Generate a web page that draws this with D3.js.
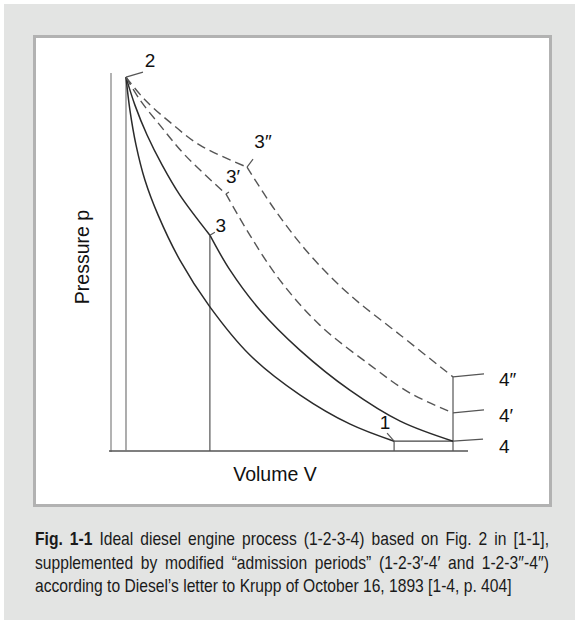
<!DOCTYPE html>
<html>
<head>
<meta charset="utf-8">
<script src="https://cdn.jsdelivr.net/npm/d3@7"></script>
<style>
  html, body { margin: 0; padding: 0; background: #ffffff; }
  svg { display: block; }
</style>
</head>
<body>
<svg id="fig" width="575" height="624"></svg>
<script>
// p–V diagram of the ideal diesel process, values in relative units (0–100)
const pointNames = ["1", "2", "3", "3′", "3″", "4", "4′", "4″"];
const pointV = [79.3, 4.2, 27.7, 32.2, 38.1, 95.8, 95.8, 95.8];
const pointP = [2.6, 98.9, 57.1, 68.0, 75.1, 2.6, 10.1, 19.6];

// compression 1–2 (solid)
const compressionV = [4.2, 5.3, 7.0, 9.5, 13.2, 19.3, 27.5, 38.9, 53.0, 67.0, 79.3];
const compressionP = [98.9, 90.2, 81.0, 71.7, 62.4, 50.5, 38.4, 25.4, 14.8, 7.1, 2.6];

// admission 2–3 and expansion 3–4 (solid)
const combustionV = [4.2, 6.7, 10.1, 14.3, 19.3, 27.7];
const combustionP = [98.9, 91.5, 83.6, 75.7, 67.7, 57.1];
const expansionV = [27.7, 33.3, 41.7, 52.9, 66.9, 81.0, 95.8];
const expansionP = [57.1, 47.9, 37.3, 26.7, 16.1, 7.9, 2.6];

// modified admission 2–3′ and expansion 3′–4′ (dashed)
const combustion1V = [4.2, 8.1, 13.7, 20.7, 32.2];
const combustion1P = [98.9, 92.9, 86.2, 78.3, 68.0];
const expansion1V = [32.2, 38.9, 47.3, 58.5, 72.5, 83.8, 95.8];
const expansion1P = [68.0, 57.1, 45.2, 33.3, 22.8, 15.3, 10.1];

// modified admission 2–3″ and expansion 3″–4″ (dashed)
const combustion2V = [4.2, 9.5, 16.5, 24.9, 38.1];
const combustion2P = [98.9, 92.9, 87.0, 80.9, 75.1];
const expansion2V = [38.1, 45.9, 55.7, 66.9, 81.0, 95.8];
const expansion2P = [75.1, 63.8, 51.9, 41.3, 30.7, 19.6];

const axisTitles = ["Volume V", "Pressure p"];
const captionLead = "Fig. 1-1";
const captionLines = [
  "Ideal diesel engine process (1-2-3-4) based on Fig. 2 in [1-1],",
  "supplemented by modified “admission periods” (1-2-3′-4′ and 1-2-3′′-4′′)",
  "according to Diesel’s letter to Krupp of October 16, 1893 [1-4, p. 404]"
];

const svg = d3.select("#fig");

// panel background and framed figure box
svg.append("rect").attr("x", 4).attr("y", 4).attr("width", 571).attr("height", 616)
  .attr("fill", "#e3e4e3");
svg.append("rect").attr("x", 34.5).attr("y", 36.5).attr("width", 516).attr("height", 469)
  .attr("fill", "#ffffff").attr("stroke", "#b2b2b2").attr("stroke-width", 3);

const x = d3.scaleLinear().domain([0, 100]).range([111, 468]);
const y = d3.scaleLinear().domain([0, 100]).range([451, 73]);

const ink = "#2b2b2b";
const g = svg.append("g");

// axes: pressure axis on the left, volume axis along the bottom
g.append("line").attr("x1", x(0)).attr("x2", x(0)).attr("y1", y(100)).attr("y2", y(0) + 1)
  .attr("stroke", "#8a8a8a").attr("stroke-width", 1.3);
g.append("line").attr("x1", x(0) - 2).attr("x2", x(100)).attr("y1", y(0)).attr("y2", y(0))
  .attr("stroke", "#555").attr("stroke-width", 1.4);

const pt = name => {
  const i = pointNames.indexOf(name);
  return [pointV[i], pointP[i]];
};

// vertical ordinates at V2, V3 and V4, and a short one at V1
["2", "3", "4″", "1"].forEach(n => {
  const [v, p] = pt(n);
  g.append("line").attr("x1", x(v)).attr("x2", x(v)).attr("y1", y(p)).attr("y2", y(0))
    .attr("stroke", n === "2" ? "#777" : "#555").attr("stroke-width", 1.2);
});
// constant-volume exhaust line 4–1
{
  const [v1, p1] = pt("1"), [v4] = pt("4");
  g.append("line").attr("x1", x(v1)).attr("x2", x(v4)).attr("y1", y(p1)).attr("y2", y(p1))
    .attr("stroke", "#444").attr("stroke-width", 1.3);
}

const line = d3.line().x(d => x(d[0])).y(d => y(d[1])).curve(d3.curveCatmullRom.alpha(0.5));
const zip = (a, b) => a.map((v, i) => [v, b[i]]);

const curves = [
  [compressionV, compressionP, false],
  [combustionV, combustionP, false],
  [expansionV, expansionP, false],
  [combustion1V, combustion1P, true],
  [expansion1V, expansion1P, true],
  [combustion2V, combustion2P, true],
  [expansion2V, expansion2P, true]
];
curves.forEach(([vs, ps, dashed]) => {
  g.append("path").attr("d", line(zip(vs, ps)))
    .attr("fill", "none").attr("stroke", dashed ? "#555" : ink)
    .attr("stroke-width", dashed ? 1.4 : 1.5)
    .attr("stroke-dasharray", dashed ? "9,5" : null);
});

// state-point labels with their leader ticks (offsets in px)
const labelFont = "'Liberation Sans', Arial, sans-serif";
const leaders = [
  ["2", 17, -5, 24, -10, "middle"],
  ["3", 5, -3, 11, -3, "middle"],
  ["3′", 3, -2, 7, -11, "middle"],
  ["3″", 6, -8, 16, -19, "middle"],
  ["1", -7, -8, -9, -12, "middle"],
  ["4", 30, -2, 46, 12, "start"],
  ["4′", 31, -3, 46, 9, "start"],
  ["4″", 31, -3, 46, 9, "start"]
];
leaders.forEach(([n, dx, dy, tx, ty, anchor]) => {
  const [v, p] = pt(n);
  const px = x(v), py = y(p);
  g.append("line").attr("x1", px).attr("y1", py).attr("x2", px + dx).attr("y2", py + dy)
    .attr("stroke", "#555").attr("stroke-width", 1.2);
  g.append("text").attr("x", px + tx).attr("y", py + ty)
    .attr("text-anchor", anchor)
    .attr("font-family", labelFont).attr("font-size", 19).attr("fill", "#111")
    .text(n);
});

// axis titles
svg.append("text").attr("x", 275).attr("y", 481).attr("text-anchor", "middle")
  .attr("font-family", labelFont).attr("font-size", 19.5).attr("fill", "#111")
  .text(axisTitles[0]);
svg.append("text").attr("transform", "translate(88.5,257) rotate(-90)")
  .attr("text-anchor", "middle")
  .attr("font-family", labelFont).attr("font-size", 19.5).attr("fill", "#111")
  .text(axisTitles[1]);

// caption in a condensed face, justified except for the last line
const capFont = "'Liberation Sans', Arial, sans-serif";
const capLeft = 35, capRight = 549, capTop = 545, capStep = 23.5, lastWidth = 477;
const capGroups = captionLines.map((txt, i) => {
  const grp = svg.append("g");
  const t = grp.append("text").attr("x", 0).attr("y", 0)
    .attr("font-family", capFont).attr("font-size", 17.5).attr("fill", "#1a1a1a");
  if (i === 0) t.append("tspan").attr("font-weight", "bold").text(captionLead + " ");
  t.append("tspan").text(txt);
  return { grp, t, full: (i === 0 ? captionLead + " " : "") + txt };
});
const sx = lastWidth / capGroups[2].t.node().getComputedTextLength();
capGroups.forEach(({ grp, t, full }, i) => {
  grp.attr("transform", `translate(${capLeft},${capTop + i * capStep}) scale(${sx},1)`);
  if (i < capGroups.length - 1) {
    const gaps = full.split(" ").length - 1;
    const w = t.node().getComputedTextLength();
    t.attr("word-spacing", ((capRight - capLeft) / sx - w) / gaps);
  }
});
</script>
</body>
</html>
